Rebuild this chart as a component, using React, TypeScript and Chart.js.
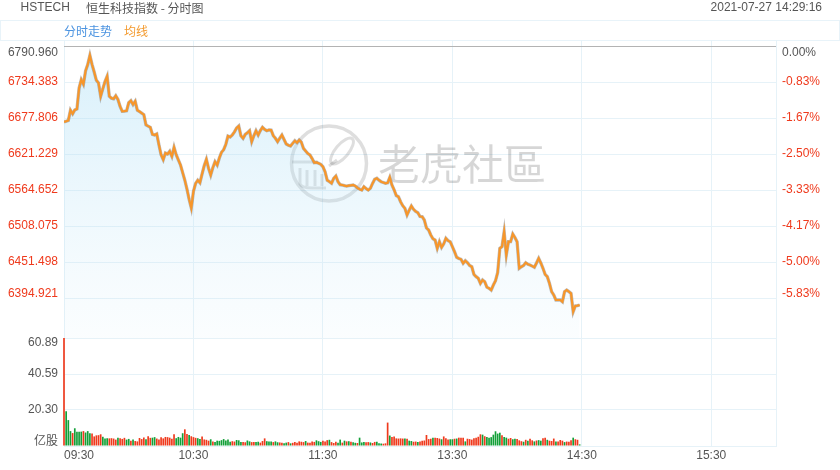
import React, { useEffect, useRef } from 'react';
import { Chart, registerables } from 'chart.js';

Chart.register(...registerables);

const FONT = '"Liberation Sans", Arial, "Noto Sans CJK SC", sans-serif';
const CJK = '"Noto Sans CJK SC", "Liberation Sans", sans-serif';
const GRID = '#e6f2f8';
const RED = '#ef3a1d';
const GREEN = '#13a038';
const GRAY_TEXT = '#555555';

// ---- data ----
const titleCode = 'HSTECH';
const titleName = '恒生科技指数 - 分时图';
const timestamp = '2021-07-27 14:29:16';
const legendPrice = '分时走势';
const legendAvg = '均线';
const watermarkText = '老虎社區';

const timeTicks = [0, 60, 120, 180, 240, 300, 330];
const timeLabels = ['09:30', '10:30', '11:30', '13:30', '14:30', '15:30', ''];

const priceTicks = [6790.96, 6734.383, 6677.806, 6621.229, 6564.652, 6508.075, 6451.498, 6394.921];
const priceTickLabels = ['6790.960', '6734.383', '6677.806', '6621.229', '6564.652', '6508.075', '6451.498', '6394.921'];
const pctTickLabels = ['0.00%', '-0.83%', '-1.67%', '-2.50%', '-3.33%', '-4.17%', '-5.00%', '-5.83%'];
const priceMax = 6800.39;
const priceMin = 6332.06;

const volTicks = [0, 20.297, 40.593, 60.89];
const volTickLabels = ['亿股', '20.30', '40.59', '60.89'];
const volMax = 60.89;

const prices = [
  6671.5, 6672.8, 6674.0, 6690.0, 6684.5, 6690.5, 6692.0, 6725.0, 6738.0, 6731.0,
  6752.0, 6762.0, 6776.3, 6762.0, 6750.0, 6737.0, 6733.0, 6712.0, 6724.0, 6735.0,
  6743.4, 6712.0, 6709.0, 6708.0, 6712.8, 6707.0, 6696.0, 6688.3, 6688.5, 6689.0,
  6702.0, 6705.0, 6699.0, 6704.1, 6690.0, 6688.0, 6685.6, 6683.0, 6667.0, 6665.0,
  6663.2, 6652.0, 6651.0, 6652.7, 6635.8, 6620.0, 6612.3, 6622.8, 6621.2, 6625.5,
  6617.6, 6631.8, 6620.1, 6612.0, 6604.0, 6592.0, 6580.0, 6566.0, 6550.0, 6536.4,
  6562.6, 6575.0, 6580.0, 6576.1, 6590.0, 6603.0, 6612.9, 6598.8, 6588.2, 6600.0,
  6609.1, 6603.9, 6615.0, 6624.0, 6628.0, 6636.5, 6649.5, 6648.0, 6651.1, 6656.0,
  6662.0, 6665.2, 6650.0, 6645.9, 6652.0, 6654.7, 6657.8, 6640.6, 6650.0, 6657.8,
  6651.1, 6658.0, 6663.2, 6660.0, 6657.8, 6659.0, 6658.9, 6650.0, 6645.9, 6640.6,
  6646.0, 6651.1, 6644.0, 6636.9, 6635.0, 6633.8, 6638.0, 6642.1, 6639.0, 6643.2,
  6640.0, 6630.0, 6626.0, 6622.0, 6619.7, 6614.0, 6607.6, 6608.0, 6606.6, 6605.0,
  6601.3, 6593.4, 6580.0, 6577.7, 6575.2, 6583.0, 6586.7, 6577.7, 6573.0, 6572.5,
  6571.5, 6570.9, 6571.5, 6572.0, 6572.5, 6570.9, 6568.0, 6566.0, 6564.6, 6569.8,
  6567.0, 6564.6, 6567.3, 6575.0, 6581.4, 6583.0, 6580.0, 6577.7, 6576.5, 6575.2,
  6576.0, 6584.6, 6572.5, 6565.0, 6556.0, 6554.1, 6546.3, 6540.0, 6535.9, 6525.4,
  6533.0, 6539.5, 6534.3, 6531.0, 6529.0, 6523.0, 6522.7, 6517.5, 6505.0, 6501.8,
  6493.9, 6488.0, 6486.1, 6473.0, 6483.4, 6474.6, 6480.0, 6488.8, 6485.0, 6483.4,
  6475.6, 6467.7, 6458.9, 6457.0, 6455.7, 6449.5, 6453.5, 6450.4, 6446.0, 6444.1,
  6432.0, 6428.4, 6425.9, 6418.0, 6423.2, 6420.5, 6412.0, 6410.2, 6407.4, 6415.3,
  6422.0, 6435.0, 6473.0, 6475.6, 6499.1, 6462.5, 6483.4, 6483.4, 6495.5, 6490.0,
  6483.4, 6441.6, 6444.1, 6446.0, 6450.4, 6448.0, 6446.8, 6445.0, 6443.2, 6450.0,
  6457.3, 6450.0, 6441.6, 6432.0, 6428.4, 6418.0, 6405.0, 6399.6, 6391.8, 6391.8,
  6391.8, 6389.1, 6404.8, 6407.4, 6405.0, 6402.3, 6373.4, 6382.4, 6383.0, 6383.9,
];

const volumes = [
  60.89, 19.6, 14.6, 8.4, 7.3, 10.0, 8.1, 8.0, 8.1, 8.4,
  7.6, 8.4, 7.2, 7.0, 5.4, 6.0, 6.1, 6.6, 5.2, 4.2,
  4.3, 4.3, 4.4, 4.2, 3.6, 4.7, 4.4, 4.0, 4.6, 3.6,
  4.0, 2.9, 3.6, 2.8, 2.6, 4.5, 3.9, 4.8, 3.8, 5.5,
  4.6, 4.7, 5.0, 4.2, 3.6, 4.9, 4.3, 5.1, 5.0, 4.7,
  4.1, 6.6, 4.4, 5.1, 4.7, 7.2, 9.4, 6.8, 6.2, 5.5,
  5.0, 4.6, 4.4, 3.9, 5.3, 3.7, 3.5, 3.0, 3.8, 2.5,
  2.3, 3.0, 2.9, 3.3, 3.9, 3.1, 3.6, 2.4, 2.7, 2.5,
  3.4, 3.2, 2.2, 2.3, 2.1, 3.1, 2.6, 2.2, 2.3, 2.3,
  2.4, 1.9, 2.8, 4.3, 2.7, 2.6, 2.5, 2.2, 2.6, 2.1,
  2.0, 1.8, 1.6, 1.9, 2.2, 1.5, 1.8, 2.3, 1.9, 2.6,
  2.4, 2.2, 2.8, 1.9, 1.8, 2.6, 2.3, 3.2, 2.7, 2.3,
  2.9, 2.5, 3.3, 3.5, 2.2, 1.7, 2.4, 1.8, 3.6, 1.9,
  3.0, 2.6, 2.7, 2.4, 2.1, 1.8, 1.7, 4.7, 2.0, 2.3,
  2.1, 2.2, 2.0, 1.7, 2.3, 2.4, 1.6, 1.4, 1.3, 1.5,
  13.2, 5.9, 5.1, 5.4, 4.3, 4.2, 4.3, 4.2, 4.2, 4.1,
  3.0, 2.8, 2.4, 2.5, 2.3, 2.6, 3.0, 3.1, 6.2, 3.9,
  4.1, 4.7, 4.7, 4.5, 4.2, 3.8, 5.4, 4.3, 3.6, 3.8,
  3.8, 4.1, 4.2, 4.7, 4.6, 4.7, 2.6, 4.1, 3.9, 3.6,
  4.3, 4.7, 5.2, 6.6, 6.4, 5.5, 5.1, 4.7, 5.0, 6.4,
  8.3, 7.0, 7.5, 6.0, 5.1, 4.7, 4.1, 4.5, 3.8, 4.1,
  4.0, 3.2, 2.7, 2.4, 3.5, 3.0, 4.1, 3.2, 2.6, 3.1,
  3.3, 3.0, 4.4, 4.6, 3.5, 3.0, 2.8, 4.2, 2.6, 2.5,
  3.4, 3.0, 2.2, 2.5, 2.4, 3.2, 4.7, 3.8, 3.5, 0.9,
];

// r = up (red), g = down (green)
const volumeSides = (
  'rgggrggggr' + 'gggrrrrrgg' + 'grrrrgrrrg' + 'grgrrrrrgr' + 'rggrrrrrrr' +
  'rrggggrrgr' + 'rrggrrrrgr' + 'ggggggggrr' + 'gggrrggrrg' + 'grrrgggrgg' +
  'rrggrgrrrr' + 'rrgrrrrggg' + 'rrrgrrrggr' + 'grgrggrggg' + 'rrgrrgggrr' +
  'rgrrrrrrgr' + 'ggrrgrrrrr' + 'rgrrrgrrrg' + 'grgrrrgrrr' + 'rrrrgrgggg' +
  'gggrggrrgg' + 'rrrgrgrrgr' + 'ggrrgrrrgr' + 'rrgrrrgrrg'
).split('');

function drawWatermark(ctx: CanvasRenderingContext2D) {
  ctx.save();
  ctx.strokeStyle = 'rgba(0,0,0,0.13)';
  ctx.lineWidth = 3.5;
  ctx.beginPath();
  ctx.arc(329, 163.5, 37.5, 0, Math.PI * 2);
  ctx.stroke();
  ctx.lineWidth = 3;
  ctx.beginPath();
  ctx.ellipse(342, 151, 16, 6.5, -Math.PI / 3.6, 0, Math.PI * 2);
  ctx.stroke();
  ctx.beginPath();
  ctx.moveTo(329, 166);
  ctx.lineTo(337, 160);
  ctx.stroke();
  ctx.beginPath();
  ctx.moveTo(292, 162);
  ctx.lineTo(318, 162);
  ctx.moveTo(300, 168);
  ctx.lineTo(300, 184);
  ctx.quadraticCurveTo(302, 188, 312, 188);
  ctx.lineTo(326, 188);
  ctx.moveTo(307, 170);
  ctx.lineTo(307, 186);
  ctx.moveTo(315, 170);
  ctx.lineTo(315, 186);
  ctx.moveTo(322, 174);
  ctx.lineTo(322, 186);
  ctx.stroke();
  ctx.fillStyle = 'rgba(0,0,0,0.16)';
  ctx.font = '400 42px "Noto Sans CJK TC", "Noto Sans CJK SC", sans-serif';
  ctx.textAlign = 'left';
  ctx.textBaseline = 'middle';
  ctx.fillText(watermarkText, 378, 164);
  ctx.restore();
}

const overlayPlugin = {
  id: 'overlay',
  beforeDraw(chart: any) {
    const ctx: CanvasRenderingContext2D = chart.ctx;
    ctx.save();
    ctx.fillStyle = '#ffffff';
    ctx.fillRect(0, 0, chart.width, chart.height);
    ctx.strokeStyle = '#e8f3f9';
    ctx.lineWidth = 1;
    ctx.strokeRect(0.5, 20.5, chart.width - 1, 20);
    ctx.textBaseline = 'middle';
    ctx.font = `12px ${FONT}`;
    ctx.fillStyle = GRAY_TEXT;
    ctx.textAlign = 'left';
    ctx.fillText(titleCode, 20.5, 8);
    ctx.font = `12px ${CJK}`;
    ctx.fillText(titleName, 86, 8);
    ctx.font = `12px ${FONT}`;
    ctx.textAlign = 'right';
    ctx.fillText(timestamp, 822, 8);
    ctx.textAlign = 'left';
    ctx.font = `12px ${CJK}`;
    ctx.fillStyle = '#4b93e0';
    ctx.fillText(legendPrice, 64, 31);
    ctx.fillStyle = '#f39a2e';
    ctx.fillText(legendAvg, 124, 31);
    ctx.restore();
  },
  beforeDatasetsDraw(chart: any) {
    drawWatermark(chart.ctx);
  },
  afterDraw(chart: any) {
    const ctx: CanvasRenderingContext2D = chart.ctx;
    const ys = chart.scales.y;
    const yv = chart.scales.yv;
    const area = chart.chartArea;
    ctx.save();
    ctx.textBaseline = 'middle';
    ctx.font = `12px ${FONT}`;
    const last = priceTicks.length - 1;
    priceTicks.forEach((v, k) => {
      let py = ys.getPixelForValue(v);
      if (k === 0) py += 7;
      if (k === last) py -= 4.5;
      ctx.fillStyle = k === 0 ? GRAY_TEXT : RED;
      ctx.textAlign = 'right';
      ctx.fillText(priceTickLabels[k], area.left - 6, py);
      ctx.textAlign = 'left';
      ctx.fillText(pctTickLabels[k], area.right + 6, py);
    });
    ctx.fillStyle = GRAY_TEXT;
    ctx.textAlign = 'right';
    volTicks.forEach((v, k) => {
      let py = yv.getPixelForValue(v);
      if (k === 0) py -= 6;
      if (k === volTicks.length - 1) py += 5;
      ctx.font = k === 0 ? `12px ${CJK}` : `12px ${FONT}`;
      ctx.fillText(volTickLabels[k], area.left - 6, py);
    });
    ctx.restore();
  },
};

export default function App() {
  const ref = useRef<HTMLCanvasElement>(null);
  useEffect(() => {
    const canvas = ref.current;
    if (!canvas) return;
    const priceData = prices.map((p, i) => ({ x: i, y: p }));
    const volData = volumes.map((v, i) => ({ x: i, y: v }));
    const barColors = volumeSides.map((s) => (s === 'r' ? RED : GREEN));

    const chart = new Chart(canvas, {
      type: 'line',
      data: {
        datasets: [
          {
            type: 'line',
            data: priceData,
            xAxisID: 'x',
            yAxisID: 'y',
            borderColor: '#f7962a',
            borderWidth: 2.2,
            pointRadius: 0,
            tension: 0,
            fill: false,
            order: 1,
          },
          {
            type: 'line',
            data: priceData,
            xAxisID: 'x',
            yAxisID: 'y',
            borderColor: 'rgba(110,105,100,0.45)',
            borderWidth: 3.3,
            pointRadius: 0,
            tension: 0,
            fill: 'start',
            backgroundColor: (c: any) => {
              const ch = c.chart;
              const s = ch.scales && ch.scales.y;
              const fallback = 'rgba(180,225,245,0.3)';
              if (!s || !Number.isFinite(s.top) || !Number.isFinite(s.bottom) || s.bottom <= s.top) return fallback;
              const g = ch.ctx.createLinearGradient(0, s.top, 0, s.bottom);
              g.addColorStop(0, 'rgba(170,222,246,0.48)');
              g.addColorStop(1, 'rgba(200,232,248,0.08)');
              return g;
            },
            order: 2,
          },
          {
            type: 'bar',
            data: volData,
            xAxisID: 'x',
            yAxisID: 'yv',
            backgroundColor: barColors,
            borderWidth: 0,
            barPercentage: 0.78,
            categoryPercentage: 1,
            clip: false as any,
            order: 3,
          },
        ] as any,
      },
      options: {
        responsive: false,
        devicePixelRatio: 1,
        animation: false,
        events: [],
        layout: { padding: { top: 40, left: 0, right: 64, bottom: 0 } },
        plugins: {
          legend: { display: false },
          tooltip: { enabled: false },
          title: { display: false },
        },
        scales: {
          x: {
            type: 'linear',
            min: 0,
            max: 330,
            offset: false,
            afterBuildTicks: (s: any) => {
              s.ticks = timeTicks.map((v) => ({ value: v }));
            },
            afterFit: (s: any) => {
              s.height = 24;
            },
            ticks: {
              autoSkip: false,
              maxRotation: 0,
              align: 'inner',
              padding: 2,
              color: GRAY_TEXT,
              font: { size: 12, family: FONT },
              callback: (_v: any, i: number) => timeLabels[i],
            },
            grid: { color: GRID, drawTicks: false, lineWidth: 1, offset: false },
            border: { display: true, color: GRID },
          },
          yv: {
            type: 'linear',
            position: 'left',
            stack: 'main',
            stackWeight: 108,
            min: 0,
            max: volMax,
            afterBuildTicks: (s: any) => {
              s.ticks = volTicks.map((v) => ({ value: v }));
            },
            afterFit: (s: any) => {
              s.width = 64;
            },
            ticks: { display: false },
            grid: { color: GRID, drawTicks: false },
            border: { display: false },
          },
          y: {
            type: 'linear',
            position: 'left',
            stack: 'main',
            stackWeight: 298,
            min: priceMin,
            max: priceMax,
            afterBuildTicks: (s: any) => {
              s.ticks = priceTicks.map((v) => ({ value: v }));
            },
            afterFit: (s: any) => {
              s.width = 64;
            },
            ticks: { display: false },
            grid: {
              color: (c: any) => (c.index === 0 ? '#b3b3b3' : GRID),
              drawTicks: false,
            },
            border: { display: false },
          },
        } as any,
      },
      plugins: [overlayPlugin],
    } as any);
    return () => chart.destroy();
  }, []);

  return (
    <div style={{ position: 'absolute', left: 0, top: 0, width: 840, height: 470, background: '#fff' }}>
      <canvas ref={ref} width={840} height={470} style={{ display: 'block', width: 840, height: 470 }} />
    </div>
  );
}
